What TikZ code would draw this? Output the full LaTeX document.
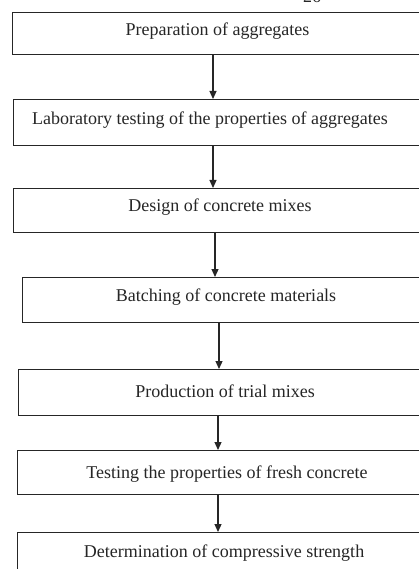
\documentclass[tikz,border=0pt]{standalone}
\usepackage{fontspec}
\setmainfont{Liberation Serif}
\usetikzlibrary{arrows.meta}
\begin{document}
\begin{tikzpicture}[x=1pt,y=-1pt,
  box/.style={draw=black!85, line width=1.4pt, rectangle, inner sep=0pt, anchor=north west, minimum width=430pt},
  lbl/.style={font=\fontsize{18}{21}\selectfont, text=black!85, inner sep=0pt},
  arr/.style={draw=black!85, line width=1.2pt, -{Triangle[length=8pt,width=7pt]}, shorten >=0pt}]
\useasboundingbox (0,0) rectangle (419,569);
\clip (0,0) rectangle (419,569);
\fill[white] (0,0) rectangle (419,569);
\node[lbl, anchor=base] (pg) at (312,3) {26};
\node[box, minimum height=42pt] (b1) at (12,12) {};
\node[box, minimum height=46pt] (b2) at (13,99) {};
\node[box, minimum height=44pt] (b3) at (13,188) {};
\node[box, minimum height=45pt] (b4) at (22,277) {};
\node[box, minimum height=46pt] (b5) at (18,369) {};
\node[box, minimum height=44pt] (b6) at (17,450) {};
\node[box, minimum height=60pt] (b7) at (17,532) {};
\node[lbl] (t1) at (217.5,31) {Preparation of aggregates};
\node[lbl] (t2) at (210,120) {Laboratory testing of the properties of aggregates};
\node[lbl] (t3) at (220,207) {Design of concrete mixes};
\node[lbl] (t4) at (226,297) {Batching of concrete materials};
\node[lbl] (t5) at (225,391) {Production of trial mixes};
\node[lbl] (t6) at (227,474) {Testing the properties of fresh concrete};
\node[lbl] (t7) at (224,553) {Determination of compressive strength};
\draw[arr] (213,0 |- b1.south) -- (213,0 |- b2.north);
\draw[arr] (213,0 |- b2.south) -- (213,0 |- b3.north);
\draw[arr] (215,0 |- b3.south) -- (215,0 |- b4.north);
\draw[arr] (219,0 |- b4.south) -- (219,0 |- b5.north);
\draw[arr] (218,0 |- b5.south) -- (218,0 |- b6.north);
\draw[arr] (218,0 |- b6.south) -- (218,0 |- b7.north);
\end{tikzpicture}
\end{document}
